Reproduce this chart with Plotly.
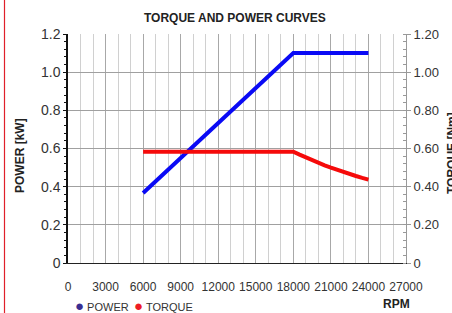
import plotly.graph_objects as go

# ---- data ----
rpm_power = [6000, 9000, 12000, 15000, 18000, 21000, 24000]
power_kw = [0.367, 0.55, 0.733, 0.917, 1.10, 1.10, 1.10]

rpm_torque = [6000, 9000, 12000, 15000, 18000, 18500, 19000, 19500, 20000, 20500, 21000,
              21500, 22000, 22500, 23000, 23500, 24000]
torque_nm = [0.583, 0.583, 0.583, 0.583, 0.583, 0.568, 0.553, 0.538, 0.525, 0.512, 0.50,
             0.488, 0.477, 0.466, 0.456, 0.446, 0.437]

x_ticks = [0, 3000, 6000, 9000, 12000, 15000, 18000, 21000, 24000, 27000]
x_tick_text = ["0", "3000", "6000", "9000", "12000", "15000", "18000", "21000", "24000", "27000"]
y_left_vals = [0, 0.2, 0.4, 0.6, 0.8, 1.0, 1.2]
y_left_text = ["0", "0.2", "0.4", "0.6", "0.8", "1.0", "1.2"]
y_right_text = ["0", "0.20", "0.40", "0.60", "0.80", "1.00", "1.20"]

title = "TORQUE AND POWER CURVES"
FONT = "Liberation Sans Narrow, Liberation Sans, Arial, sans-serif"

W, H = 452, 313
L, R, T, B = 68, 46, 34, 50
pw, ph = W - L - R, H - T - B

def px(x):
    return (x - L) / pw

def py(y):
    return (H - B - y) / ph

fig = go.Figure()
fig.add_trace(go.Scatter(x=rpm_power, y=power_kw, mode="lines",
                         line=dict(color="#0a0af5", width=4), showlegend=False))
fig.add_trace(go.Scatter(x=rpm_torque, y=torque_nm, mode="lines", yaxis="y2",
                         line=dict(color="#f50a0a", width=4), showlegend=False))

fig.update_layout(
    width=W, height=H,
    margin=dict(l=L, r=R, t=T, b=B, autoexpand=False),
    paper_bgcolor="white", plot_bgcolor="white",
    font=dict(family=FONT, size=13, color="#333"),
    xaxis=dict(range=[0, 27000], tickvals=x_ticks, ticktext=x_tick_text, showgrid=True,
               gridcolor="#a8a8a8", gridwidth=1, zeroline=False, showline=True, linecolor="#222",
               ticks="", ticklabelstandoff=13, tickfont=dict(size=12, color="#333"),
               minor=dict(dtick=1000, showgrid=True, gridcolor="#d0d0d0", ticks=""),
               ),
    yaxis=dict(range=[0, 1.2], tickvals=y_left_vals, ticktext=y_left_text, showgrid=True,
               gridcolor="#a0a0a0", zeroline=False, showline=True, linecolor="#111",
               linewidth=1.5, ticks="outside", ticklen=3, tickcolor="#111",
               tickfont=dict(size=14, color="#333"),
               minor=dict(dtick=0.04, ticks="outside", ticklen=2, tickcolor="#111", showgrid=False)),
    yaxis2=dict(range=[0, 1.2], tickvals=y_left_vals, ticktext=y_right_text, overlaying="y",
                side="right", showgrid=False, zeroline=False, showline=True, linecolor="#999",
                ticks="outside", ticklen=4, tickcolor="#999",
                tickfont=dict(size=13, color="#333"),
                minor=dict(dtick=0.04, ticks="inside", ticklen=3, tickcolor="#999")),
    showlegend=False,
)

anns = [
    dict(text="<b>" + title + "</b>", x=px(235), y=py(18), font=dict(size=12, color="#222")),
    dict(text="<b>POWER [kW]</b>", x=px(20), y=py(156), textangle=-90, font=dict(size=12, color="#222")),
    dict(text="<b>TORQUE [Nm]</b>", x=px(452), y=py(153), textangle=-90, font=dict(size=12, color="#222")),
    dict(text="<b>RPM</b>", x=px(396), y=py(304), font=dict(size=12, color="#222")),
    dict(text="<span style='color:#3a2e91;font-size:15px'>●</span> POWER", x=px(73), y=py(305),
         xanchor="left", font=dict(size=11, color="#333")),
    dict(text="<span style='color:#ee1c25;font-size:15px'>●</span> TORQUE", x=px(132), y=py(305),
         xanchor="left", font=dict(size=11, color="#333")),
]
for a in anns:
    a.setdefault("xanchor", "center")
    fig.add_annotation(xref="paper", yref="paper", showarrow=False, yanchor="middle", **a)

fig.add_shape(type="line", xref="paper", yref="paper", x0=px(4.5), x1=px(4.5), y0=py(0), y1=py(313),
              line=dict(color="#e0202a", width=1.2))

fig.write_html("out.html", config={"displayModeBar": False},
               post_script="document.body.style.margin='0';")
